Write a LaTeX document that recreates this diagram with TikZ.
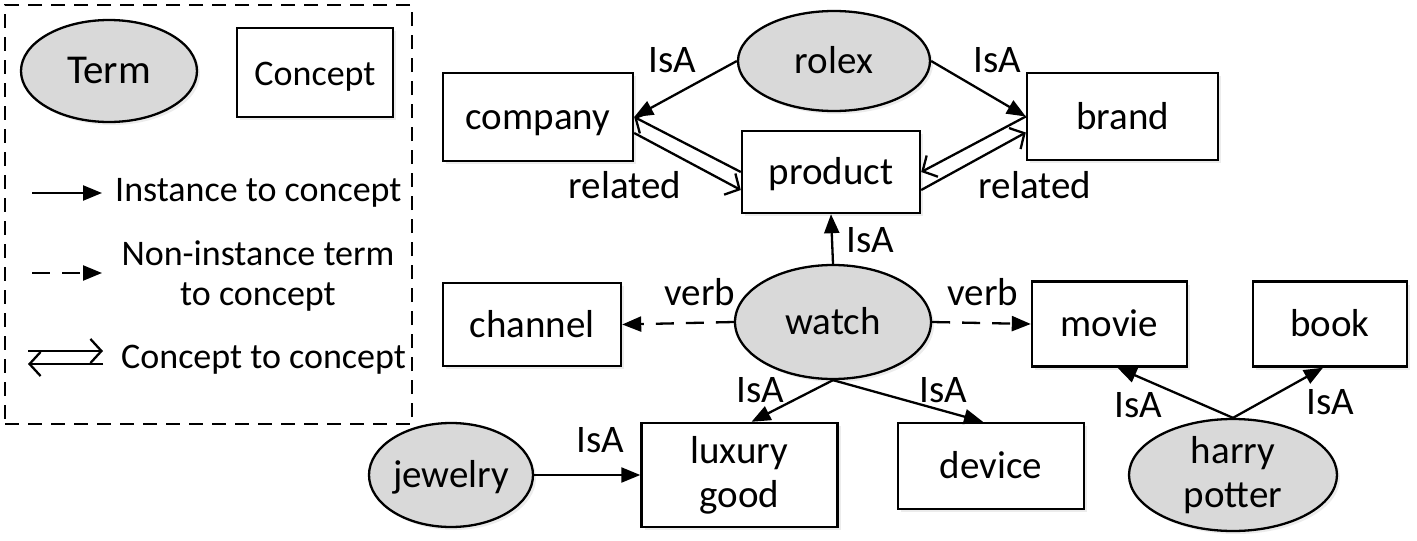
\documentclass[tikz,border=0pt]{standalone}
\usepackage{fontspec}
\setmainfont{Carlito}
\usetikzlibrary{arrows.meta,shapes.geometric,shadows,calc}
\begin{document}
\begin{tikzpicture}[x=1pt,y=-1pt,
  every node/.style={font=\fontsize{39}{44}\selectfont, inner sep=0pt},
  legendfont/.style={font=\fontsize{36}{40}\selectfont},
  oneline/.style={text height=27pt, text depth=2pt},
  shade/.style={drop shadow={shadow xshift=3pt,shadow yshift=-3pt,fill=black!12,opacity=0.6}},
  term/.style={ellipse, draw, fill=black!15, line width=2.3pt, shade},
  concept/.style={rectangle, draw, fill=white, line width=2.4pt, align=center, shade},
  isa/.style={line width=2.3pt, -{Triangle[length=19pt,width=15pt]}},
  verbarrow/.style={isa, dash pattern=on 18pt off 12pt},
  rel/.style={line width=2.3pt, -{Straight Barb[length=11pt,width=24pt]}},
]
\useasboundingbox (0,0) rectangle (1417,541);

% legend
\node[draw, line width=2.2pt, dash pattern=on 14pt off 9pt, minimum width=407pt, minimum height=419pt] (legend) at (208.5,214.5) {};
\node[term, oneline, font=\fontsize{41}{44}\selectfont, minimum width=176pt, minimum height=102pt] (lterm) at (109,71) {Term};
\node[concept, oneline, legendfont, minimum width=156pt, minimum height=89pt] (lconcept) at (315,72.5) {Concept};
\coordinate (l1a) at (32,193); \coordinate (l1b) at (102,193);
\draw[isa] (l1a) -- (l1b);
\node[anchor=west, legendfont] (l1t) at (115,193) {Instance to concept};
\coordinate (l2a) at (32,273); \coordinate (l2b) at (102,273);
\draw[verbarrow] (l2a) -- (l2b);
\node[align=center, legendfont] (l2t) at (258,276) {Non-instance term\\to concept};
\coordinate (l3a) at (28,351); \coordinate (l3b) at (103,351);
\coordinate (l3c) at (103,364); \coordinate (l3d) at (28,364);
\draw[rel] (l3a) -- (l3b);
\draw[rel] (l3c) -- (l3d);
\node[anchor=west, legendfont] (l3t) at (121,360) {Concept to concept};

% main nodes
\node[term, oneline, minimum width=192pt, minimum height=100pt] (rolex) at (834,61) {rolex};
\node[concept, oneline, minimum width=190pt, minimum height=88pt] (company) at (538,117) {company};
\node[concept, oneline, minimum width=191pt, minimum height=87pt] (brand) at (1122.5,116.5) {brand};
\node[concept, oneline, minimum width=178pt, minimum height=82pt] (product) at (831,172) {product};
\node[term, oneline, minimum width=196pt, minimum height=114pt] (watch) at (833,322) {watch};
\node[concept, oneline, minimum width=178pt, minimum height=83pt] (channel) at (532,324.5) {channel};
\node[concept, oneline, minimum width=155pt, minimum height=85pt] (movie) at (1109.5,324) {movie};
\node[concept, oneline, minimum width=154pt, minimum height=85pt] (book) at (1330,324) {book};
\node[concept, minimum width=196pt, minimum height=104pt] (luxury) at (739.5,475) {luxury\\good};
\node[concept, oneline, minimum width=186pt, minimum height=86pt] (device) at (991,466) {device};
\node[term, oneline, minimum width=164pt, minimum height=104pt] (jewelry) at (451,475) {jewelry};
\node[term, minimum width=208pt, minimum height=112pt, align=center] (harry) at (1233,475) {harry\\potter};

% edges
\draw[isa] (rolex.west) -- (company.east);
\draw[isa] (rolex.east) -- (brand.west);
\draw[rel] (product.west) -- (company.east);
\draw[rel] ($(company.east)+(0,16)$) -- ($(product.west)+(0,18)$);
\draw[rel] (brand.west) -- (product.east);
\draw[rel] ($(product.east)+(0,18)$) -- ($(brand.west)+(0,16)$);
\draw[isa] (watch.north) -- (product.south);
\draw[verbarrow] (watch.west) -- (channel.east);
\draw[verbarrow] (watch.east) -- (movie.west);
\draw[isa] (watch.south) -- ($(luxury.north)+(12,0)$);
\draw[isa] (watch.south) -- ($(device.north)+(-8,0)$);
\draw[isa] (jewelry.east) -- (luxury.west);
\draw[isa] (harry.north) -- ($(movie.south)+(8,0)$);
\draw[isa] (harry.north) -- ($(book.south)+(-7,0)$);

% labels
\node (t1) at (672,60) {IsA};
\node (t2) at (997,60) {IsA};
\node (t3) at (625,185) {related};
\node (t4) at (1035,185) {related};
\node (t5) at (870,240) {IsA};
\node (t6) at (700,292) {verb};
\node (t7) at (983,292) {verb};
\node (t8) at (760,390) {IsA};
\node (t9) at (943,390) {IsA};
\node (t10) at (600,440) {IsA};
\node (t11) at (1138,405) {IsA};
\node (t12) at (1330,402) {IsA};
\end{tikzpicture}
\end{document}
